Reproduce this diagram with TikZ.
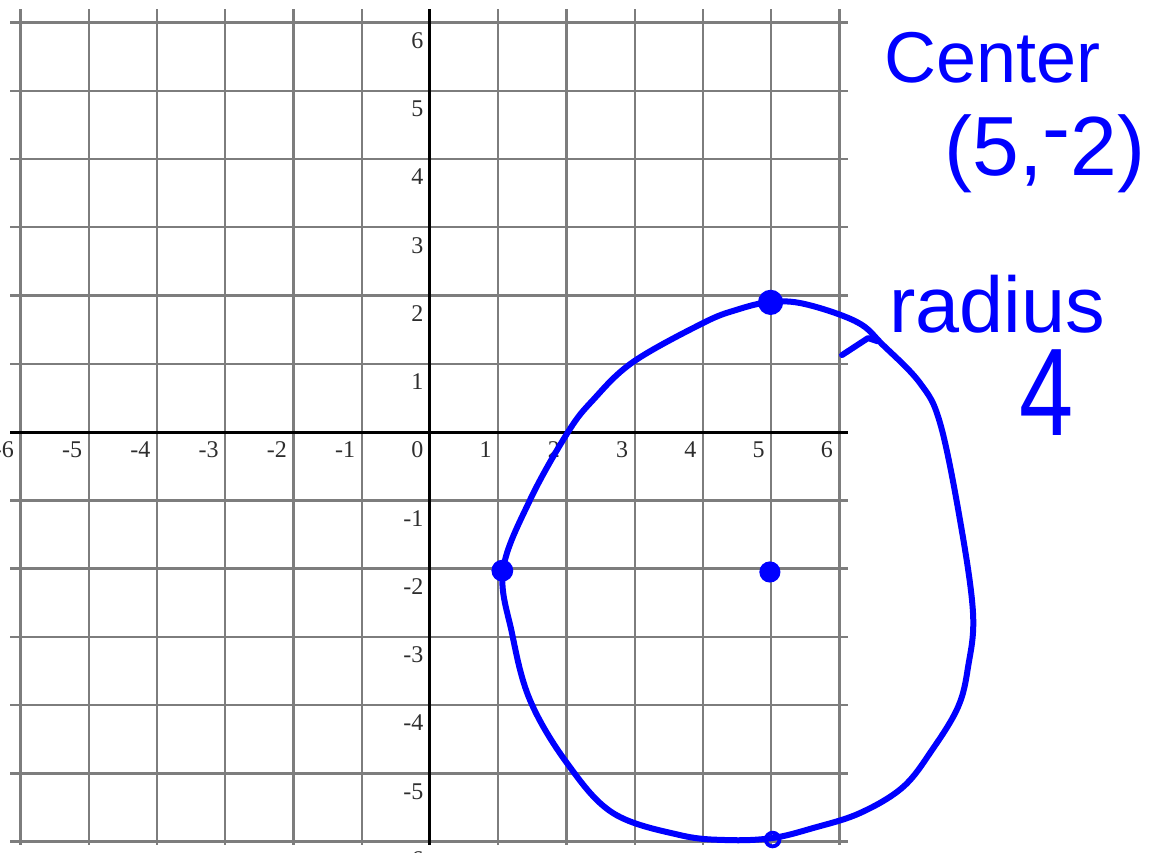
\documentclass[tikz,border=0pt]{standalone}
\usepackage{fontspec}
\setmainfont{Liberation Serif}
\newfontfamily\handfont{Liberation Sans}
\usetikzlibrary{arrows.meta,positioning,calc}
\definecolor{ink}{RGB}{0,0,255}
\definecolor{gridgray}{RGB}{125,125,125}
\definecolor{labelgray}{RGB}{45,45,45}

\begin{document}
\begin{tikzpicture}[x=1cm,y=1cm,
  gridline/.style={gridgray,line width=1pt},
  axisline/.style={black,line width=1.25pt},
  ticklabel/.style={font=\fontsize{10}{10}\selectfont,text=labelgray,inner sep=0pt,anchor=north east},
  pen/.style={ink,line width=2.5pt,line cap=round,line join=round},
  dot/.style={circle,fill=ink,inner sep=0pt,minimum size=#1},
  hand/.style={text=ink,inner sep=0pt,anchor=base}]
  \path[use as bounding box,fill=white] (-6.30,-6.154) rectangle (10.637,6.33);
  \foreach \x in {-6,...,-1,1,2,...,6} \draw[gridline] (\x,-6.05) -- (\x,6.2);
  \foreach \y in {-6,...,-1,1,2,...,6} \draw[gridline] (-6.15,\y) -- (6.125,\y);
  \draw[axisline] (-6.15,0) -- (6.125,0);
  \draw[axisline] (0,-6.05) -- (0,6.2);
  \foreach \x in {-6,...,-1,1,2,...,6} \node[ticklabel] at (\x-0.09,-0.13) {\x};
  \foreach \y in {-6,...,-1,1,2,...,6} \node[ticklabel] at (-0.09,\y-0.14) {\y};
  \node[ticklabel] (origin) at (-0.09,-0.13) {0};
  % hand drawn circle
  \draw[pen] plot[smooth cycle,tension=0.6] coordinates {
    (4.982,1.905) (5.495,1.875) (6.256,1.612) (6.637,1.275) (7.179,0.718) (7.473,0.132)
    (7.766,-1.293) (7.956,-2.652) (7.883,-3.443) (7.736,-4.029) (7.355,-4.659) (6.930,-5.201)
    (6.300,-5.582) (5.612,-5.802) (5.011,-5.949) (4.352,-5.978) (3.663,-5.905) (2.681,-5.582)
    (2.007,-4.850) (1.465,-3.927) (1.201,-2.945) (1.070,-2.022) (1.465,-0.996)
    (2.022,0) (2.388,0.469) (2.974,1.026) (4.000,1.597) (4.484,1.788)};
  \node[dot=0.37cm] (top) at (4.99,1.90) {};
  \node[dot=0.32cm] (left) at (1.06,-2.03) {};
  \node[dot=0.31cm] (center) at (4.98,-2.05) {};
  \draw[ink,line width=1.6pt] (5.02,-5.97) circle (0.1);
  \coordinate (tickend) at (6.56,1.33);
  \draw[pen] (6.037,1.128) -- (6.418,1.377) -- (tickend);
  \node[hand,font=\handfont\fontsize{30}{30}\selectfont] (centerlabel) at (8.235,5.128) {Center};
  \node[hand,font=\handfont\fontsize{35}{35}\selectfont] (centerval) at (9.011,3.766) {(5,\raisebox{0.22em}{-}2)};
  \node[hand,font=\handfont\fontsize{33}{33}\selectfont] (radiuslabel) at (8.31,1.465) {radius};
  \node[hand,font=\handfont\fontsize{52}{52}\selectfont] (radiusval) at (9.026,-0.044) {\scalebox{0.78}[1]{4}};
\end{tikzpicture}
\end{document}
